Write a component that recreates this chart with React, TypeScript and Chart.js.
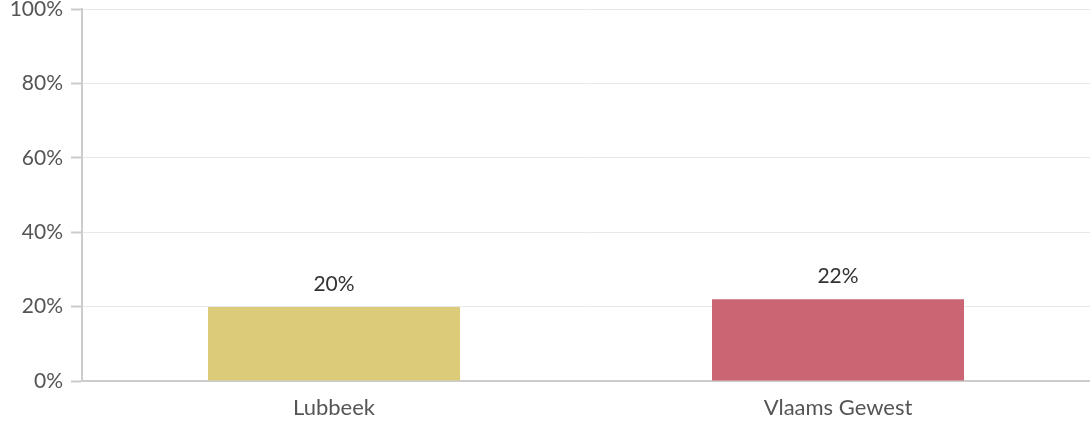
import React, { useEffect, useRef } from "react";
import { Chart, registerables } from "chart.js";

Chart.register(...registerables);

const categories = ["Lubbeek", "Vlaams Gewest"];
const values = [19.9, 22];
const valueLabels = ["20%", "22%"];
const barColors = ["#DCCB78", "#CB6573"];
const yTicks = [0, 20, 40, 60, 80, 100];

const FONT = "Lato, 'Open Sans', sans-serif";

const valueLabelPlugin = {
  id: "valueLabels",
  afterDatasetsDraw(chart: any) {
    const ctx = chart.ctx;
    const meta = chart.getDatasetMeta(0);
    ctx.save();
    ctx.font = `21px ${FONT}`;
    ctx.fillStyle = "#333333";
    ctx.textAlign = "center";
    ctx.textBaseline = "middle";
    meta.data.forEach((bar: any, i: number) => {
      ctx.fillText(valueLabels[i], bar.x, bar.y - 23);
    });
    ctx.restore();
  },
};

export default function App() {
  const ref = useRef<HTMLCanvasElement>(null);
  useEffect(() => {
    document.body.style.margin = "0";
    const chart = new Chart(ref.current!, {
      type: "bar",
      data: {
        labels: categories,
        datasets: [
          {
            data: values,
            backgroundColor: barColors,
            borderWidth: 0,
            barPercentage: 0.5,
            categoryPercentage: 1,
          },
        ],
      },
      options: {
        animation: false,
        responsive: false,
        maintainAspectRatio: false,
        layout: { padding: { top: 9, right: 0, left: 0, bottom: 0 } },
        plugins: {
          legend: { display: false },
          tooltip: { enabled: false },
        },
        scales: {
          x: {
            grid: { display: false, drawTicks: false },
            border: { display: true, color: "#cccccc", width: 2 },
            ticks: {
              color: "#555555",
              font: { family: FONT, size: 22 },
              padding: 14,
            },
            afterFit: (s: any) => {
              s.height = 40;
              s.paddingLeft = 0;
              s.paddingRight = 0;
            },
          },
          y: {
            min: 0,
            max: 100,
            afterBuildTicks: (s: any) => {
              s.ticks = yTicks.map((v) => ({ value: v }));
            },
            grid: {
              color: "#e8e8e8",
              lineWidth: 1,
              tickLength: 11,
              tickColor: "#cccccc",
              tickWidth: 2,
            },
            border: { display: true, color: "#cccccc", width: 2 },
            ticks: {
              color: "#555555",
              font: { family: FONT, size: 21 },
              padding: 8,
              callback: (v: any) => `${v}%`,
            },
            afterFit: (s: any) => {
              s.width = 82;
              s.paddingTop = 0;
              s.paddingBottom = 0;
            },
          },
        },
      },
      plugins: [valueLabelPlugin],
    });
    return () => chart.destroy();
  }, []);
  return (
    <div style={{ width: 1090, height: 421 }}>
      <canvas ref={ref} width={1090} height={421} />
    </div>
  );
}
